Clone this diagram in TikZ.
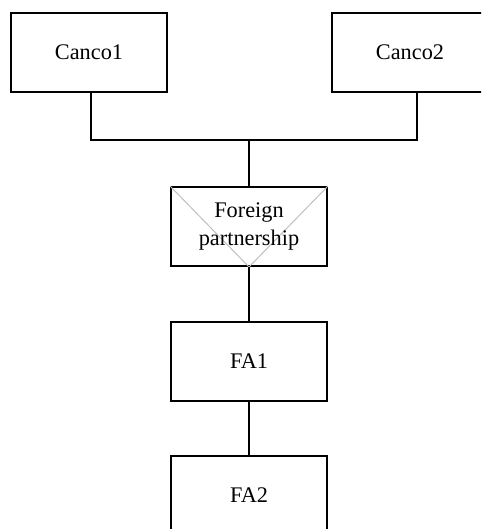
\documentclass[tikz,border=0pt]{standalone}
\usepackage{fontspec}
\setmainfont{Liberation Serif}
\begin{document}
\begin{tikzpicture}[x=1pt,y=-1pt,
  box/.style={draw=black,line width=2pt,minimum width=156pt,minimum height=79pt,inner sep=0pt,align=center,
    font=\fontsize{22.3}{27.6}\selectfont},
  conn/.style={draw=black,line width=1.4pt},
  diag/.style={draw=black!25,line width=1pt}]
\useasboundingbox (0,0) rectangle (481,529);
\begin{scope}
\clip (0,0) rectangle (481,529);
\node[box] (c1) at (89,52.5) {Canco1};
\node[box] (c2) at (410,52.5) {Canco2};
\node[box] (fp) at (249,226.5) {};
\draw[diag] (fp.north west) -- (fp.south);
\draw[diag] (fp.north east) -- (fp.south);
\node[align=center,font=\fontsize{22.3}{27.6}\selectfont,inner sep=0pt] (fpt) at (fp.center) {Foreign\\partnership};
\node[box] (fa1) at (249,361) {FA1};
\node[box] (fa2) at (249,495) {FA2};
\coordinate (j) at (249,140);
\draw[conn] (c1.south -| 91,0) |- (j) -| (c2.south -| 417,0);
\draw[conn] (j) -- (fp.north);
\draw[conn] (fp.south) -- (fa1.north);
\draw[conn] (fa1.south) -- (fa2.north);
\end{scope}
\end{tikzpicture}
\end{document}
